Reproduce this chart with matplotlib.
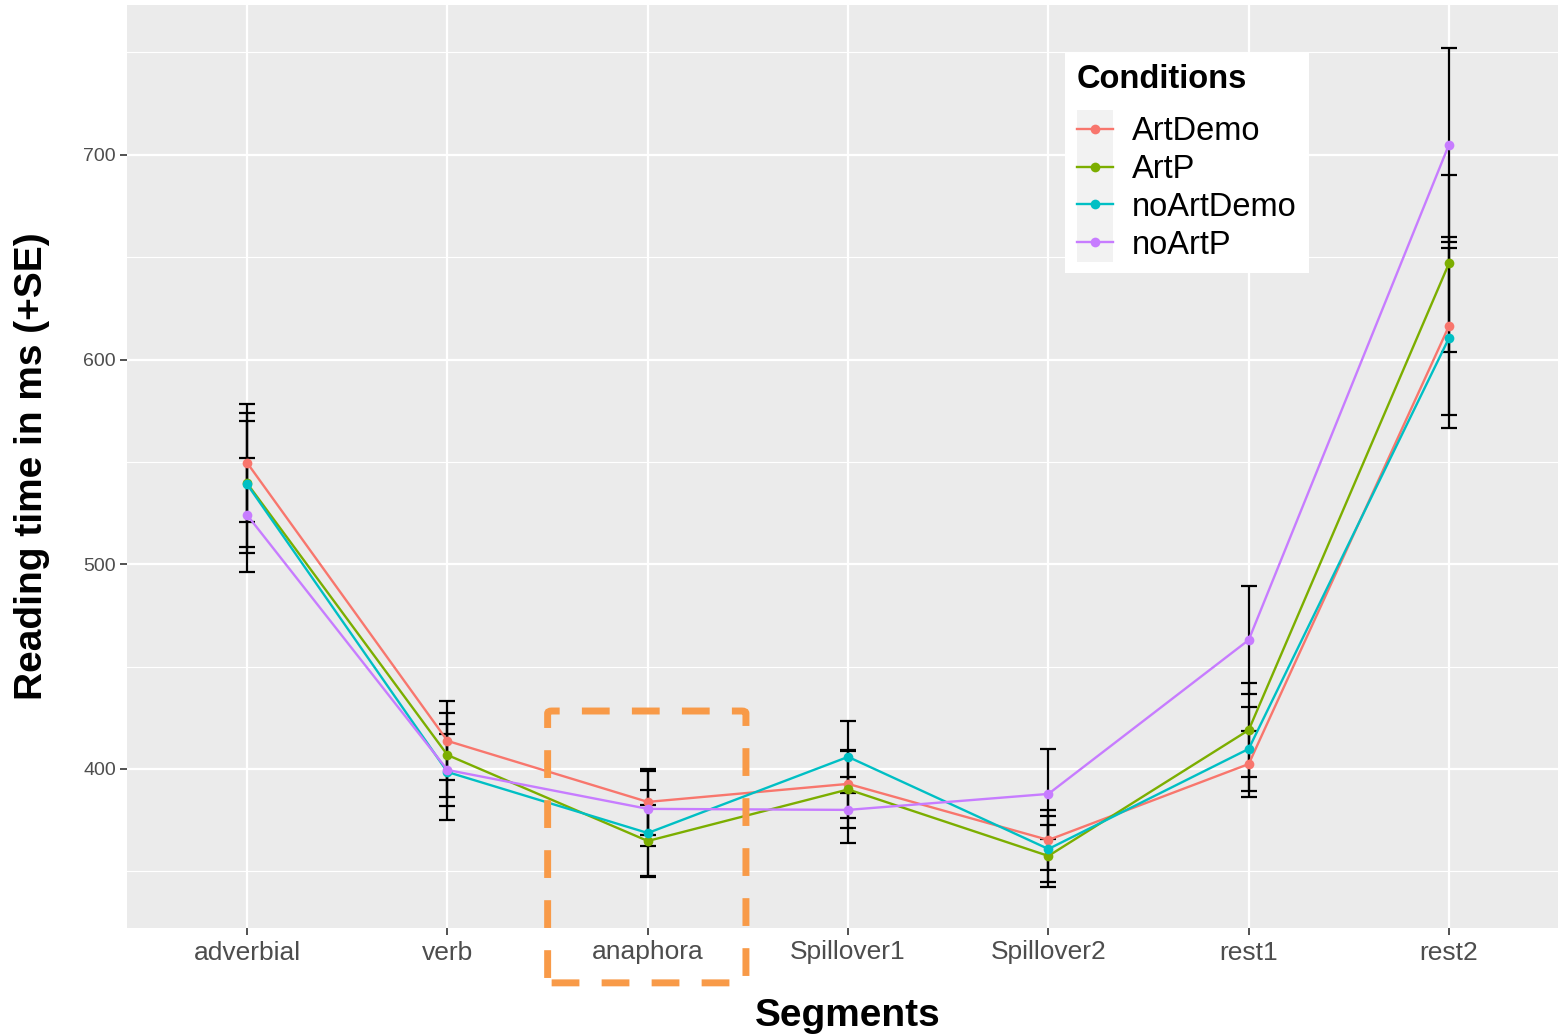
import numpy as np
import matplotlib
matplotlib.use("Agg")
import matplotlib.pyplot as plt
from matplotlib.patches import FancyBboxPatch, Rectangle
from matplotlib.lines import Line2D
from matplotlib.legend_handler import HandlerLine2D

plt.rcParams['font.family'] = ['Liberation Sans', 'DejaVu Sans']

segments = ['adverbial', 'verb', 'anaphora', 'Spillover1', 'Spillover2', 'rest1', 'rest2']
conditions = ['ArtDemo', 'ArtP', 'noArtDemo', 'noArtP']
colors = ['#F8766D', '#7CAE00', '#00BFC4', '#C77CFF']

# mean reading times (ms)
art_demo = [549.5, 413.7, 383.9, 392.7, 365.3, 402.4, 616.4]
art_p = [539.5, 406.8, 364.8, 390.0, 357.5, 419.0, 647.0]
no_art_demo = [539.0, 398.5, 368.7, 405.9, 360.9, 409.8, 610.5]
no_art_p = [524.0, 399.5, 380.5, 380.0, 387.8, 463.0, 705.0]

# standard errors
se_art_demo = [28.8, 19.3, 16.0, 16.6, 14.7, 16.0, 43.5]
se_art_p = [34.2, 20.4, 17.6, 19.0, 15.0, 23.0, 43.2]
se_no_art_demo = [30.8, 23.4, 21.0, 17.7, 16.0, 20.5, 44.0]
se_no_art_p = [27.8, 17.6, 18.3, 16.0, 22.0, 26.4, 47.4]

means = [art_demo, art_p, no_art_demo, no_art_p]
ses = [se_art_demo, se_art_p, se_no_art_demo, se_no_art_p]


class KeyHandler(HandlerLine2D):
    # legend key with the light grey ggplot key background
    def create_artists(self, legend, orig_handle, xdescent, ydescent,
                       width, height, fontsize, trans):
        arts = super().create_artists(legend, orig_handle, xdescent, ydescent,
                                      width, height, fontsize, trans)
        ex = 5.6
        r = Rectangle((-xdescent, -ydescent - ex), width, height + 2 * ex,
                      facecolor='#F2F2F2', edgecolor='none', transform=trans)
        return [r] + list(arts)


fig = plt.figure(figsize=(15.58, 10.35), dpi=100)
ax = fig.add_axes([127 / 1558, 107 / 1035, 1 - 127 / 1558, 923 / 1035])
ax.set_facecolor('#EBEBEB')

x = np.arange(1, len(segments) + 1)

for m, s in zip(means, ses):
    ax.errorbar(x, m, yerr=s, fmt='none', ecolor='black', elinewidth=1.6,
                capsize=6, capthick=1.6, zorder=3)
for m, c in zip(means, colors):
    ax.plot(x, m, color=c, lw=1.7, zorder=4)
    ax.plot(x, m, 'o', color=c, ms=7, mec='none', zorder=5)

ax.set_xlim(0.4, 7 + (1558 - 1449) / 200.3)
ax.set_ylim(322.3, 773.2)
ax.set_xticks(x)
ax.set_xticklabels(segments)
ax.set_yticks([400, 500, 600, 700])
ax.set_yticks([350, 450, 550, 650, 750], minor=True)
ax.grid(True, which='major', color='white', lw=1.6)
ax.grid(True, which='minor', axis='y', color='white', lw=0.8)
ax.set_axisbelow(True)
for sp in ax.spines.values():
    sp.set_visible(False)
ax.tick_params(axis='both', which='major', length=5, width=1.2, color='#333333',
               labelcolor='#4D4D4D')
ax.tick_params(axis='x', labelsize=19, pad=4)
ax.tick_params(axis='y', labelsize=14, pad=3)
ax.tick_params(which='minor', length=0)

ax.set_xlabel('Segments', fontsize=28, fontweight='bold', labelpad=24)
ax.xaxis.label.set_x((848 - 127) / 1431)
ax.set_ylabel('Reading time in ms (+SE)', fontsize=28, fontweight='bold', labelpad=24)

handles = [Line2D([], [], color=c, lw=1.7, marker='o', ms=7, mec='none') for c in colors]
leg = ax.legend(handles, conditions, title='Conditions', loc='upper left',
                bbox_to_anchor=((1065 - 127) / 1431, (928 - 52) / 923),
                fontsize=23.5, title_fontproperties={'weight': 'bold', 'size': 23.5},
                frameon=True, fancybox=False, framealpha=1, edgecolor='white',
                handlelength=1.1, handletextpad=0.6, labelspacing=0.21,
                borderpad=0.36, borderaxespad=0, alignment='left',
                handler_map={Line2D: KeyHandler()})
leg.get_frame().set_linewidth(0)
leg._legend_box.sep = 0.21 * 23.5 + 10.5

# highlight box around the anaphora segment
box = FancyBboxPatch((2.5, 295.5), 0.99, 132.8, boxstyle='round,pad=0,rounding_size=0.02',
                     transform=ax.transData, fill=False, edgecolor='#F89A48', lw=5,
                     linestyle=(0, (4, 3.2)), clip_on=False, zorder=6,
                     mutation_aspect=60)
ax.add_patch(box)

fig.savefig('out.png', dpi=100)
